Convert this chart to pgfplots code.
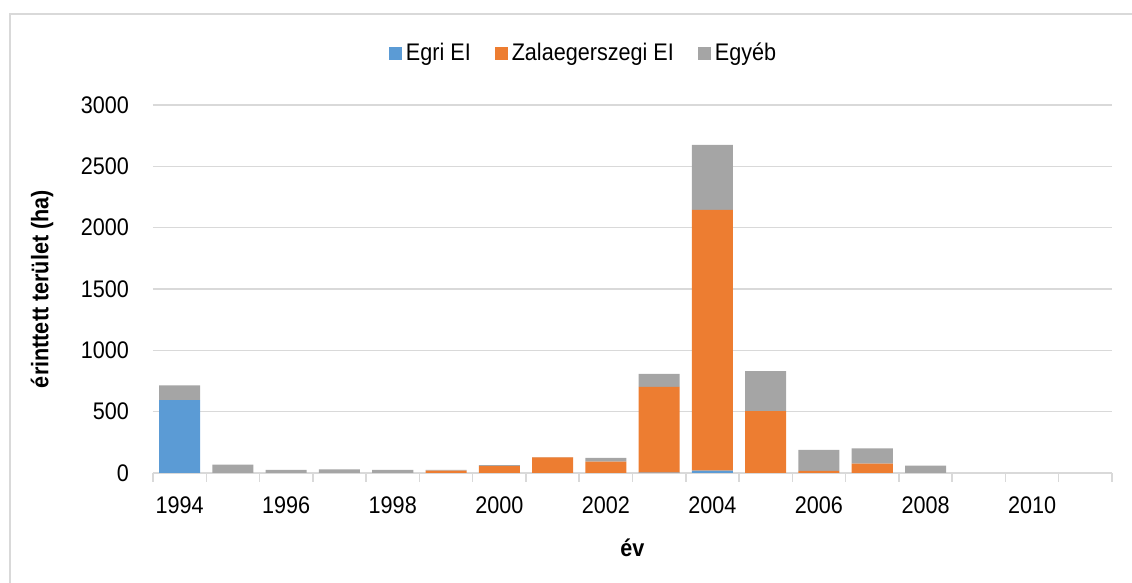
\documentclass[border=0pt]{standalone}
\usepackage{fontspec}
\setmainfont{Liberation Sans}[FakeStretch=0.9]
\usepackage{pgfplots}
\usepackage{pgfplotstable}
\pgfplotsset{compat=1.18}
\definecolor{cBlue}{HTML}{5B9BD5}
\definecolor{cOrange}{HTML}{ED7D31}
\definecolor{cGray}{HTML}{A5A5A5}
\definecolor{gridgray}{HTML}{D9D9D9}
\pgfplotstableread{
idx egri zala egyeb
0 595 0 120
1 0 0 68
2 0 0 25
3 0 0 30
4 0 0 25
5 0 20 5
6 0 55 10
7 0 128 2
8 0 93 30
9 3 700 105
10 20 2124 531
11 0 505 325
12 0 18 170
13 0 76 125
14 0 0 60
15 0 0 0
16 0 0 0
17 0 0 0
}\datatable
\begin{document}
\begin{tikzpicture}
\useasboundingbox (0,0) rectangle (566pt,291.5pt);
\draw[gridgray, line width=0.6pt] (5pt,-2pt) -- (5pt,284.5pt) -- (570pt,284.5pt);
\begin{axis}[
  at={(76.5pt,55pt)}, anchor=south west,
  scale only axis, width=479.5pt, height=184pt,
  ybar stacked, bar width=0.77,
  xmin=-0.5, xmax=17.5, ymin=0, ymax=3000,
  xtick={0,2,...,16},
  xticklabels={1994,1996,1998,2000,2002,2004,2006,2008,2010},
  minor xtick={-0.5,0.5,...,17.5},
  ytick={0,500,...,3000},
  major tick length=0pt, minor tick length=4.5pt, tick align=outside,
  minor tick style={gridgray, line width=0.75pt},
  separate axis lines, axis lines*=left,
  x axis line style={gridgray, line width=0.75pt},
  y axis line style={draw=none},
  ymajorgrids, grid style={gridgray, line width=0.75pt},
  /pgf/number format/assume math mode=true,
  /pgf/number format/1000 sep={},
  tick label style={font=\fontsize{12}{14}\selectfont, black},
  yticklabel style={xshift=-8.5pt},
  xticklabel style={yshift=-8.5pt},
  xlabel={\textbf{év}},
  ylabel={\textbf{érinttett terület (ha)}},
  label style={font=\fontsize{12}{14}\selectfont},
  xlabel style={at={(axis description cs:0.5,-0.204)}, anchor=center},
  ylabel style={at={(axis description cs:-0.1157,0.5)}, anchor=center},
  legend columns=3,
  legend style={draw=none, fill=none, at={(axis description cs:0.45,1.14)}, anchor=center,
    font=\fontsize{12}{14}\selectfont, inner sep=0pt,
    /tikz/every even column/.append style={column sep=10pt}},
  legend image code/.code={\fill[#1] (0pt,-3.2pt) rectangle (6.5pt,3.3pt);},
  every axis plot/.append style={draw=none},
]
\addplot[fill=cBlue] table[x=idx,y=egri]{\datatable};
\addplot[fill=cOrange] table[x=idx,y=zala]{\datatable};
\addplot[fill=cGray] table[x=idx,y=egyeb]{\datatable};
\legend{Egri EI, Zalaegerszegi EI, Egyéb}
\end{axis}
\end{tikzpicture}
\end{document}
